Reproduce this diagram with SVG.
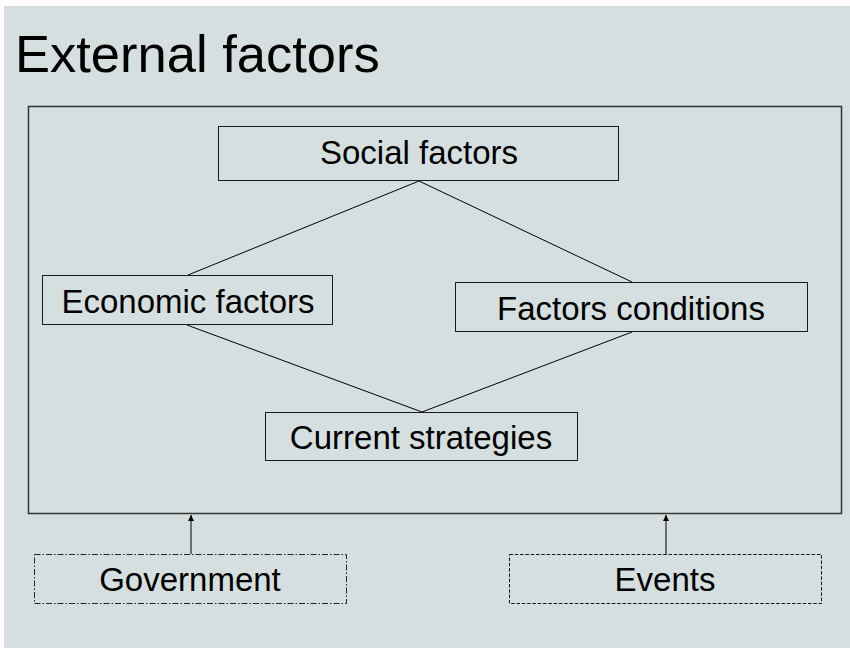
<svg xmlns="http://www.w3.org/2000/svg" width="850" height="648" viewBox="0 0 850 648">
<style>
.box{fill:none;stroke:#1a1a1a;stroke-width:1}
.lbl{font-family:"Liberation Sans",Arial,sans-serif;font-size:33px;fill:#000;text-anchor:middle}
.con{stroke:#000;stroke-width:1;fill:none}
</style>
<defs>
<marker id="ah" viewBox="0 0 10 10" refX="10" refY="5" markerWidth="6" markerHeight="6" markerUnits="userSpaceOnUse" orient="auto">
<path d="M0,0 L10,5 L0,10 z" fill="#000"/>
</marker>
</defs>
<rect x="0" y="0" width="850" height="648" fill="#fff"/>
<rect x="4" y="6" width="846" height="642" fill="#D6DFDF"/>
<text x="15" y="72" font-family="'Liberation Sans',Arial,sans-serif" font-size="52.5px" fill="#000">External factors</text>
<g id="frame"><rect x="28.5" y="106.5" width="813" height="407" fill="none" stroke="#333" stroke-width="1.5"/></g>
<g id="connectors">
<line class="con" x1="419" y1="181" x2="188" y2="275"/>
<line class="con" x1="419" y1="181" x2="632" y2="282"/>
<line class="con" x1="187" y1="325" x2="422" y2="412"/>
<line class="con" x1="632" y1="332" x2="422" y2="412"/>
<line class="con" x1="191" y1="554" x2="191" y2="515" marker-end="url(#ah)"/>
<line class="con" x1="666" y1="554" x2="666" y2="515" marker-end="url(#ah)"/>
</g>
<g id="social"><rect class="box" x="218.5" y="126.5" width="400" height="54"/><text class="lbl" x="419" y="164">Social factors</text></g>
<g id="economic"><rect class="box" x="42.5" y="275.5" width="290" height="49"/><text class="lbl" x="188" y="313">Economic factors</text></g>
<g id="conditions"><rect class="box" x="455.5" y="282.5" width="352" height="49"/><text class="lbl" x="631" y="320">Factors conditions</text></g>
<g id="current"><rect class="box" x="265.5" y="412.5" width="312" height="48"/><text class="lbl" x="421" y="449">Current strategies</text></g>
<g id="government"><rect x="34.5" y="554.5" width="312" height="49" fill="none" stroke="#222" stroke-width="1" stroke-dasharray="6 2 1.5 2"/><text class="lbl" x="190" y="591">Government</text></g>
<g id="events"><rect x="509.5" y="554.5" width="312" height="49" fill="none" stroke="#111" stroke-width="1" stroke-dasharray="3.5 1.8"/><text class="lbl" x="665" y="591">Events</text></g>
</svg>
